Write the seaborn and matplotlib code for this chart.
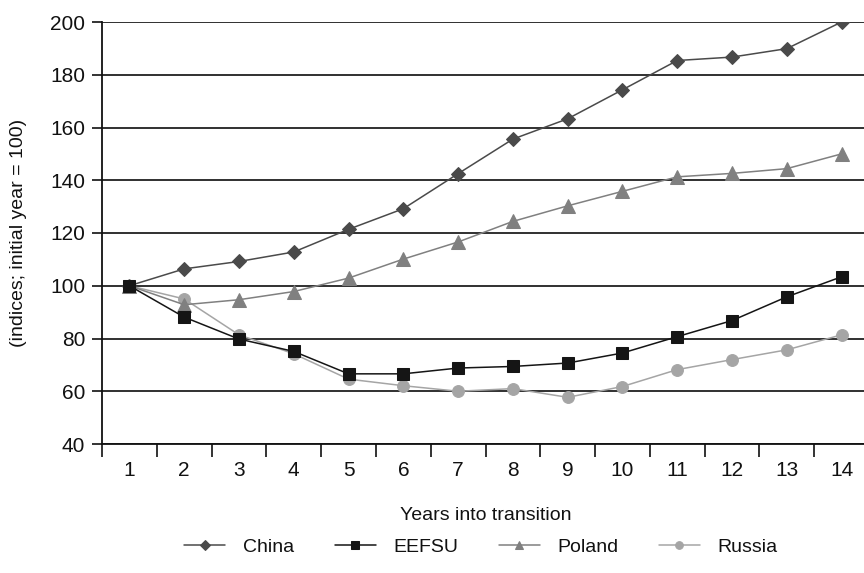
import numpy as np
import pandas as pd
import matplotlib
matplotlib.use("Agg")
import matplotlib.pyplot as plt
import seaborn as sns

years = list(range(1, 15))
china = [100, 106.4, 109.2, 112.8, 121.4, 129.2, 142.5, 155.6, 163.3, 174.3, 185.4, 186.7, 189.9, 200]
eefsu = [100, 88.1, 79.8, 75.1, 66.6, 66.6, 68.8, 69.4, 70.7, 74.5, 80.7, 86.8, 95.8, 103.4]
poland = [100, 92.8, 94.7, 97.8, 102.9, 110.1, 116.6, 124.4, 130.3, 135.8, 141.3, 142.6, 144.4, 150]
russia = [100, 95.0, 81.4, 74.2, 64.6, 62.1, 60.0, 61.0, 57.7, 61.8, 68.2, 72.0, 75.7, 81.4]

series_names = ["China", "EEFSU", "Poland", "Russia"]
series_values = [china, eefsu, poland, russia]
colors = {"China": "#4a4a4a", "EEFSU": "#151515", "Poland": "#808080", "Russia": "#a5a5a5"}
markers = {"China": "D", "EEFSU": "s", "Poland": "^", "Russia": "o"}
msizes = {"China": 7.5, "EEFSU": 8.5, "Poland": 9.5, "Russia": 8.5}
zorders = {"China": 4, "EEFSU": 6, "Poland": 5, "Russia": 3}

df = pd.DataFrame(
    [(y, v, n) for n, vals in zip(series_names, series_values) for y, v in zip(years, vals)],
    columns=["year", "index", "series"],
)

sns.set_theme(style="white")
plt.rcParams["font.family"] = ["Liberation Sans", "DejaVu Sans"]

fig = plt.figure(figsize=(8.64, 5.73), dpi=100)
ax = fig.add_axes([102 / 864, 1 - 444 / 573, 767 / 864, (444 - 22) / 573])

# gridlines drawn underneath the series
for v in range(40, 201, 20):
    ax.axhline(v, color="#202020", lw=1.3, zorder=0)

for name in series_names:
    sub = df[df["series"] == name]
    sns.lineplot(
        data=sub, x="year", y="index", ax=ax, color=colors[name],
        marker=markers[name], markersize=msizes[name], markeredgecolor=colors[name],
        lw=1.1, label=name, legend=False, zorder=zorders[name],
    )

ax.set_xlim(0.5, 14.5)
ax.set_ylim(40, 200)
ax.set_yticks(range(40, 201, 20))
ax.set_xticks(years)
ax.set_xticks(np.arange(0.5, 14.6, 1.0), minor=True)
ax.tick_params(axis="x", which="major", length=0, labelsize=15, pad=12, colors="#111")
ax.tick_params(axis="x", which="minor", length=9, width=1.2, direction="out", color="#111", bottom=True)
ax.tick_params(axis="y", which="major", length=7, width=1.2, direction="out", left=True,
               labelsize=15, pad=5, colors="#111")

for side in ["top", "right"]:
    ax.spines[side].set_visible(False)
for side in ["left", "bottom"]:
    ax.spines[side].set_color("#111")
    ax.spines[side].set_linewidth(1.3)

ax.set_xlabel("Years into transition", fontsize=14, labelpad=20, color="#111")
ax.set_ylabel("(indices; initial year = 100)", fontsize=14, labelpad=17, color="#111")

# legend lists the series in their drawing order above
h, l = ax.get_legend_handles_labels()
order = [l.index(n) for n in series_names]
leg = fig.legend(
    [h[i] for i in order], [l[i] for i in order], loc="center",
    bbox_to_anchor=(481 / 864, 1 - 547 / 573), ncol=4,
    frameon=False, fontsize=14, markerscale=0.65, handlelength=2.1,
    handletextpad=0.9, columnspacing=2.1,
)
for t in leg.get_texts():
    t.set_color("#111")

fig.savefig("out.png", dpi=100)
